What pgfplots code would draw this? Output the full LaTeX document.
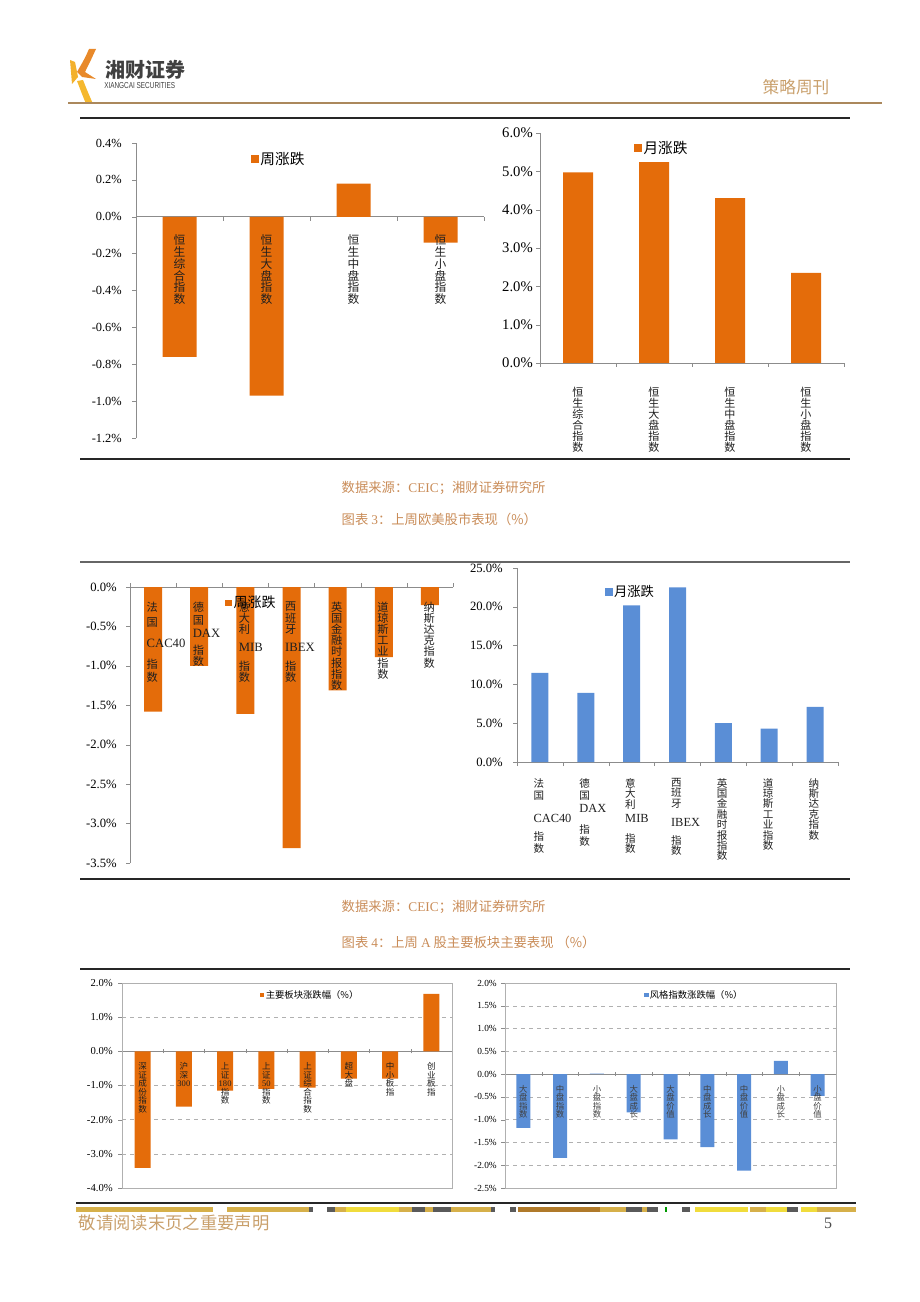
\documentclass[border=0pt]{standalone}
\usepackage{fontspec}
\setmainfont{Liberation Serif}
\setsansfont{Liberation Sans}
\newfontfamily\cjk{Noto Sans CJK SC}
\usepackage{graphicx}
\usepackage{pgfplots}
\pgfplotsset{compat=1.18}

\definecolor{bar}{HTML}{E46C0A}
\definecolor{blu}{HTML}{5A8ED6}
\definecolor{cap}{HTML}{C98C58}
\definecolor{hdr}{HTML}{C9A06C}
\definecolor{axgray}{HTML}{8C8C8C}
\definecolor{gridgray}{HTML}{B0B0B0}
\definecolor{gold}{HTML}{D6B04A}
\definecolor{yel}{HTML}{F0DC3C}
\definecolor{dgr}{HTML}{5A5A5A}
\definecolor{brn}{HTML}{B07A2A}
\definecolor{lor}{HTML}{E8892A}
\definecolor{lye}{HTML}{F5B82E}

\newcommand\lat[1]{{\rmfamily #1}}
\newcommand\latf[2]{{\rmfamily\fontsize{#1}{8}\selectfont #2}}
\newcommand\fs[2]{\fontsize{#1}{#2}\selectfont\lineskiplimit=-20pt\relax}

\pgfplotsset{
  layers/labtop/.define layer set={axis background,axis grid,axis ticks,axis lines,pre main,main,axis tick labels,axis descriptions,axis foreground}{
    grid style={/pgfplots/on layer=axis grid},
    tick style={/pgfplots/on layer=axis ticks},
    axis line style={/pgfplots/on layer=axis lines},
    tick label style={/pgfplots/on layer=axis tick labels},
    legend style={/pgfplots/on layer=axis descriptions},
  },
  every non boxed x axis/.append style={x axis line style={-}},
  every non boxed y axis/.append style={y axis line style={-}},
  page/.style={
    set layers=labtop,
    scale only axis, anchor=north west, ybar,
    axis line style={draw=axgray},
    major tick length=3pt, minor tick length=3pt,
    major x tick style={draw=none},
    minor x tick style={draw=axgray},
    ytick style={draw=axgray},
    hide obscured x ticks=false, hide obscured y ticks=false,
    /pgf/number format/assume math mode=true,
    yticklabel={\pgfmathprintnumber[fixed,fixed zerofill,precision=1]{\tick}\%},
    yticklabel style={inner sep=0pt},
    xticklabel style={inner sep=0pt, align=center, anchor=north, text=black!88},
    legend style={draw=none, fill=none, inner sep=0pt, anchor=west,
      nodes={inner sep=1pt}},
    legend cell align=left,
  },
  nolinearrows/.style={x axis line style={-}, y axis line style={-}, axis line style={-}},
  sq/.style={legend image code/.code={\fill[##1] (0pt,-#1) rectangle (2*#1,#1);}},
}

\begin{document}
\begin{tikzpicture}
\begin{scope}[x=0.75pt,y=-0.75pt]
\path (0,0) rectangle (920,1302);
% header
\fill[lye!85!lor] (70,60) -- (75,62) -- (78,77) -- (72,84) -- cycle;
\fill[lor] (96,49) -- (89,49) .. controls (85,58) .. (77,72) -- (82,77) -- (96,79) -- (85,72) .. controls (90,62) .. (96,49);
\fill[lye] (77,81) -- (83,80) .. controls (87,90) .. (93,104) -- (86,104) .. controls (82,94) .. (77,81);
\node[anchor=west, font=\cjk\bfseries\fs{15}{15}, text=black!75] at (101,70) {湘财证券};
\node[anchor=west, font=\sffamily\fs{6.5}{6.5}, text=black!75, inner sep=0pt] at (104,86)
  {\scalebox{0.74}[1]{XIANGCAI SECURITIES}};
\node[font=\cjk\fs{12.5}{12.5}, text=hdr] at (796,87) {策略周刊};
\draw[hdr!85!black, line width=0.8pt] (68,103) -- (882,103);
% block rules
\draw[black!85, line width=2.2pt] (80,118) -- (850,118);
\draw[black!85, line width=2.2pt] (80,459) -- (850,459);
\draw[black!60, line width=1.2pt] (80,562) -- (850,562);
\draw[black!85, line width=2.2pt] (80,879) -- (850,879);
\draw[black!85, line width=2.2pt] (80,969) -- (850,969);
\draw[black!85, line width=2.2pt] (76,1203) -- (856,1203);
% captions
\node[anchor=west, font=\cjk\fs{10}{10}, text=cap] at (337,488) {数据来源：\lat{CEIC}；湘财证券研究所};
\node[anchor=west, font=\cjk\fs{10}{10}, text=cap] at (337,519) {图表 \lat{3}：上周欧美股市表现（\%）};
\node[anchor=west, font=\cjk\fs{10}{10}, text=cap] at (337,907) {数据来源：\lat{CEIC}；湘财证券研究所};
\node[anchor=west, font=\cjk\fs{10}{10}, text=cap] at (337,942) {图表 \lat{4}：上周 \lat{A} 股主要板块主要表现 （\%）};
% footer stripe
\fill[gold] (76,1207) rectangle (213,1212);
\fill[gold] (227,1207) rectangle (309,1212);
\fill[dgr] (309,1207) rectangle (313,1212);
\fill[dgr] (327,1207) rectangle (335,1212);
\fill[gold] (335,1207) rectangle (346,1212);
\fill[yel] (346,1207) rectangle (399,1212);
\fill[gold] (399,1207) rectangle (412,1212);
\fill[dgr] (412,1207) rectangle (425,1212);
\fill[gold] (425,1207) rectangle (433,1212);
\fill[dgr] (433,1207) rectangle (451,1212);
\fill[gold] (451,1207) rectangle (491,1212);
\fill[dgr] (491,1207) rectangle (495,1212);
\fill[dgr] (510,1207) rectangle (516,1212);
\fill[brn] (518,1207) rectangle (600,1212);
\fill[gold] (600,1207) rectangle (626,1212);
\fill[dgr] (626,1207) rectangle (642,1212);
\fill[gold] (642,1207) rectangle (647,1212);
\fill[dgr] (647,1207) rectangle (658,1212);
\fill[green!60!black] (665,1207) rectangle (667,1212);
\fill[dgr] (682,1207) rectangle (690,1212);
\fill[yel] (695,1207) rectangle (748,1212);
\fill[gold] (750,1207) rectangle (766,1212);
\fill[yel] (766,1207) rectangle (787,1212);
\fill[dgr] (787,1207) rectangle (798,1212);
\fill[yel] (801,1207) rectangle (817,1212);
\fill[gold] (817,1207) rectangle (856,1212);
\node[anchor=west, font=\cjk\fs{13}{13}, text=hdr] at (74,1223) {敬请阅读末页之重要声明};
\node[font=\fs{12}{12}, text=black!70] at (828,1223) {5};
\end{scope}

% ---- HK weekly
\begin{axis}[page, at={(136*0.75pt,-143*0.75pt)}, width=261pt, height=221.25pt,
  xmin=-0.5, xmax=3.5, ymin=-1.2, ymax=0.4,
  axis x line=middle, axis y line=left, nolinearrows, tick align=outside,
  ytick={-1.2,-1.0,-0.8,-0.6,-0.4,-0.2,0,0.2,0.4},
  yticklabel style={font=\fs{9.3}{10}, xshift=-7.5pt},
  xtick={0,1,2,3}, minor xtick={-0.5,0.5,1.5,2.5,3.5},
  xticklabels={{恒\\生\\综\\合\\指\\数},{恒\\生\\大\\盘\\指\\数},{恒\\生\\中\\盘\\指\\数},{恒\\生\\小\\盘\\指\\数}},
  xticklabel style={font=\cjk\fs{8.8}{8.8}, yshift=-10.5pt},
  legend style={at={(0.33,0.946)}, font=\cjk\fs{11}{11}},
]
\addplot[fill=bar, draw=none, bar width=25.5pt, sq=3pt] coordinates {(0,-0.76) (1,-0.97) (2,0.18) (3,-0.14)};
\addlegendentry{周涨跌}
\end{axis}

% ---- HK monthly
\begin{axis}[page, at={(540*0.75pt,-133*0.75pt)}, width=228pt, height=172.5pt,
  xmin=-0.5, xmax=3.5, ymin=0, ymax=6,
  axis x line=bottom, axis y line=left, nolinearrows, tick align=outside,
  ytick={0,1,2,3,4,5,6},
  yticklabel style={font=\fs{11}{11}, xshift=-2.25pt},
  xtick={0,1,2,3}, minor xtick={-0.5,0.5,1.5,2.5,3.5},
  xticklabels={{恒\\生\\综\\合\\指\\数},{恒\\生\\大\\盘\\指\\数},{恒\\生\\中\\盘\\指\\数},{恒\\生\\小\\盘\\指\\数}},
  xticklabel style={font=\cjk\fs{8.3}{8.3}, yshift=-15pt},
  legend style={at={(0.309,0.935)}, font=\cjk\fs{11}{11}},
]
\addplot[fill=bar, draw=none, bar width=22.5pt, sq=3pt] coordinates {(0,4.97) (1,5.24) (2,4.30) (3,2.35)};
\addlegendentry{月涨跌}
\end{axis}

% ---- Europe/US weekly
\begin{axis}[page, at={(130*0.75pt,-587*0.75pt)}, width=242.25pt, height=207pt,
  xmin=-0.5, xmax=6.5, ymin=-3.5, ymax=0,
  axis x line=middle, axis y line=left, nolinearrows, tick align=outside,
  minor x tick style={draw=axgray, yshift=3pt},
  ytick={-3.5,-3.0,-2.5,-2.0,-1.5,-1.0,-0.5,0},
  yticklabel style={font=\fs{9.5}{10}, xshift=-6.75pt},
  xtick={0,...,6}, minor xtick={-0.5,0.5,1.5,2.5,3.5,4.5,5.5,6.5},
  xticklabels={{法\\[2.5pt]国\\[8pt]\latf{9.5}{CAC40}\\[7.5pt]指\\[1.5pt]数},{德\\[1.5pt]国\\[1.5pt]\latf{9.5}{DAX}\\[4.5pt]指\\数},{意\\大\\利\\[5pt]\latf{9.5}{MIB}\\[6pt]指\\数},{西\\班\\牙\\[5.5pt]\latf{9.5}{IBEX}\\[6pt]指\\数},{英\\国\\金\\融\\时\\报\\指\\数},{道\\琼\\斯\\工\\业\\指\\数},{纳\\斯\\达\\克\\指\\数}},
  xticklabel style={font=\cjk\fs{8.4}{8.3}, align=left, anchor=north west, xshift=-5pt, yshift=-8.25pt},
  legend style={at={(0.294,0.942)}, font=\cjk\fs{10.5}{10.5}},
]
\addplot[fill=bar, draw=none, bar width=13.5pt, sq=2.6pt] coordinates {(0,-1.58) (1,-1.00) (2,-1.61) (3,-3.31) (4,-1.31) (5,-0.89) (6,-0.23)};
\addlegendentry{周涨跌}
\end{axis}

% ---- Europe/US monthly
\begin{axis}[page, at={(517*0.75pt,-568*0.75pt)}, width=240.75pt, height=145.5pt,
  xmin=-0.5, xmax=6.5, ymin=0, ymax=25,
  axis x line=bottom, axis y line=left, nolinearrows, tick align=outside,
  ytick={0,5,10,15,20,25},
  yticklabel style={font=\fs{9.5}{10}, xshift=-7.5pt},
  xtick={0,...,6}, minor xtick={-0.5,0.5,1.5,2.5,3.5,4.5,5.5,6.5},
  xticklabels={{法\\[1.2pt]国\\[10pt]\latf{9.3}{CAC40}\\[5.5pt]指\\[1.2pt]数},{德\\[1.2pt]国\\[2pt]\latf{9.3}{DAX}\\[8.5pt]指\\[1.2pt]数},{意\\大\\利\\[3pt]\latf{9.3}{MIB}\\[7pt]指\\数},{西\\班\\牙\\[6.5pt]\latf{9.3}{IBEX}\\[5.7pt]指\\数},{英\\国\\金\\融\\时\\报\\指\\数},{道\\琼\\斯\\工\\业\\指\\数},{纳\\斯\\达\\克\\指\\数}},
  xticklabel style={font=\cjk\fs{7.9}{7.8}, align=left, anchor=north west, xshift=-5pt, yshift=-9pt},
  legend style={at={(0.274,0.876)}, font=\cjk\fs{10}{10}},
]
\addplot[fill=blu, draw=none, bar width=12.75pt, sq=2.8pt] coordinates {(0,11.5) (1,8.9) (2,20.2) (3,22.5) (4,5.0) (5,4.3) (6,7.1)};
\addlegendentry{月涨跌}
\end{axis}

% ---- A-share sectors
\begin{axis}[page, at={(122*0.75pt,-983*0.75pt)}, width=247.5pt, height=153.75pt,
  xmin=-0.5, xmax=7.5, ymin=-4, ymax=2,
  axis x line=middle, axis y line=box, nolinearrows, ytick pos=left, tick align=outside,
  ymajorgrids, grid style={dashed, gridgray},
  ytick={-4,-3,-2,-1,0,1,2},
  yticklabel style={font=\fs{8}{8}, xshift=-3.75pt},
  xtick={0,...,7}, minor xtick={-0.5,0.5,1.5,2.5,3.5,4.5,5.5,6.5,7.5},
  minor x tick style={draw=axgray, yshift=1.5pt},
  xticklabels={{深\\证\\成\\份\\指\\数},{沪\\深\\\lat{300}},{上\\证\\\lat{180}\\指\\数},{上\\证\\\lat{50}\\指\\数},{上\\证\\综\\合\\指\\数},{超\\大\\盘},{中\\小\\板\\指},{创\\业\\板\\指}},
  xticklabel style={font=\cjk\fs{6.4}{6.4}, yshift=-5.25pt},
  legend style={at={(0.418,0.941)}, font=\cjk\fs{7}{7}},
  after end axis/.code={\draw[gridgray] (rel axis cs:0,0) rectangle (rel axis cs:1,1);},
]
\addplot[fill=bar, draw=none, bar width=12pt, sq=1.6pt] coordinates {(0,-3.41) (1,-1.62) (2,-1.15) (3,-1.10) (4,-1.06) (5,-0.80) (6,-0.80) (7,1.68)};
\addlegendentry{主要板块涨跌幅（\%）}
\end{axis}

% ---- style indices
\begin{axis}[page, at={(505*0.75pt,-983*0.75pt)}, width=248.25pt, height=153.75pt,
  xmin=-0.5, xmax=8.5, ymin=-2.5, ymax=2,
  axis x line=middle, axis y line=box, nolinearrows, ytick pos=left, tick align=outside,
  ymajorgrids, grid style={dashed, gridgray},
  ytick={-2.5,-2.0,-1.5,-1.0,-0.5,0,0.5,1.0,1.5,2.0},
  yticklabel style={font=\fs{7}{7}, xshift=-3pt},
  xtick={0,...,8}, minor xtick={-0.5,0.5,1.5,2.5,3.5,4.5,5.5,6.5,7.5,8.5},
  minor x tick style={draw=axgray, yshift=1.5pt},
  xticklabels={{大\\盘\\指\\数},{中\\盘\\指\\数},{小\\盘\\指\\数},{大\\盘\\成\\长},{大\\盘\\价\\值},{中\\盘\\成\\长},{中\\盘\\价\\值},{小\\盘\\成\\长},{小\\盘\\价\\值}},
  xticklabel style={font=\cjk\fs{6.3}{6.3}, yshift=-5.25pt, text=black!75},
  legend style={at={(0.42,0.941)}, font=\cjk\fs{7}{7}},
  after end axis/.code={\draw[gridgray] (rel axis cs:0,0) rectangle (rel axis cs:1,1);},
]
\addplot[fill=blu, draw=none, bar width=10.5pt, sq=1.6pt] coordinates {(0,-1.18) (1,-1.84) (2,0.01) (3,-0.84) (4,-1.43) (5,-1.60) (6,-2.12) (7,0.29) (8,-0.48)};
\addlegendentry{风格指数涨跌幅（\%）}
\end{axis}
\end{tikzpicture}
\end{document}
